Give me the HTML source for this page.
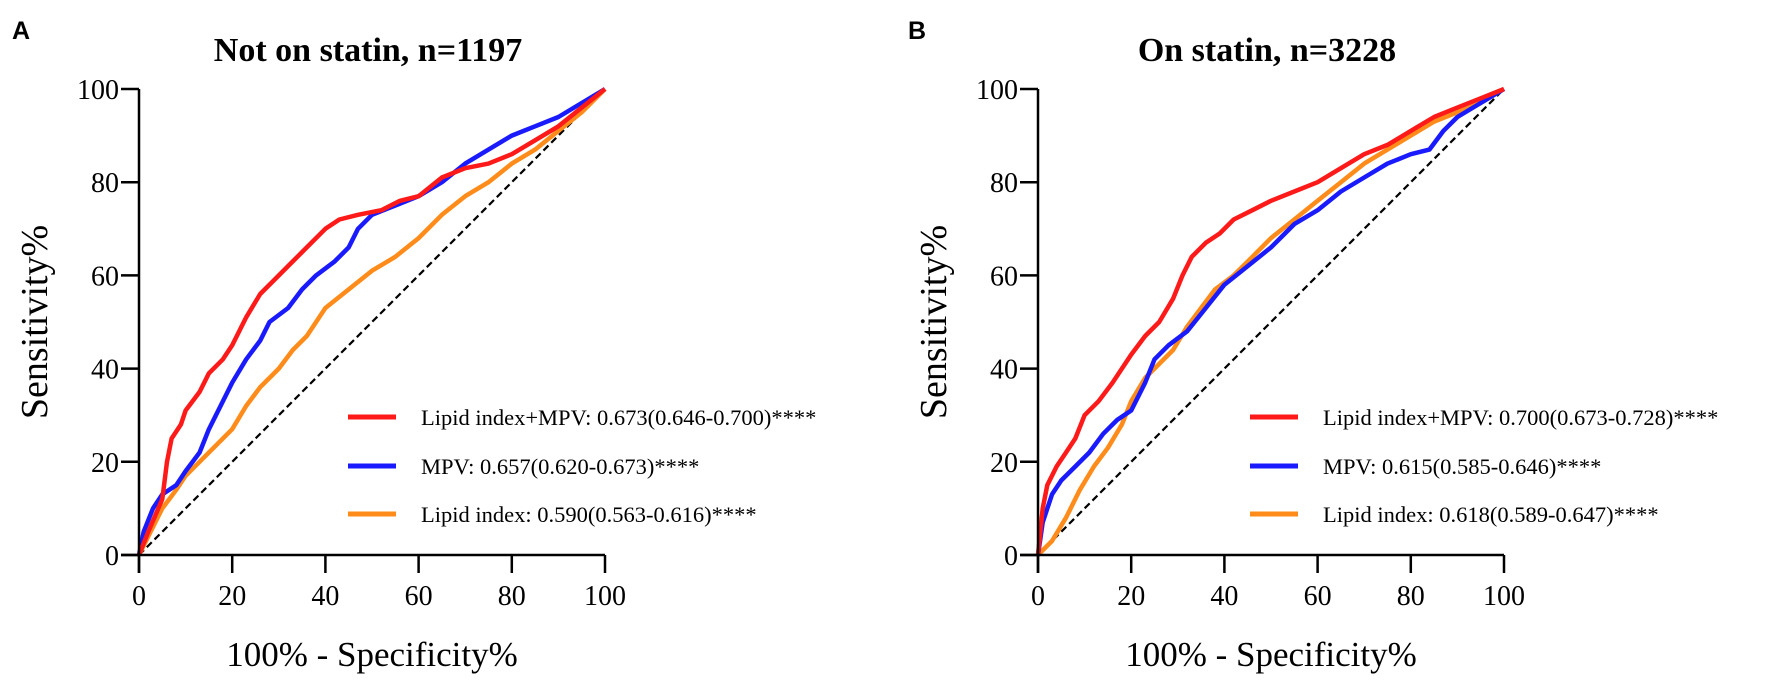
<!DOCTYPE html>
<html><head><meta charset="utf-8">
<style>
html,body{margin:0;padding:0;background:#fff;}
svg{display:block;}
text{font-family:"Liberation Serif",serif;fill:#000;}
</style></head>
<body>
<svg id="chart" width="1772" height="682" viewBox="0 0 1772 682" xmlns="http://www.w3.org/2000/svg"></svg>
<script>
const ticks=[0,20,40,60,80,100];
const tickLabels=["0","20","40","60","80","100"];
const panelTitles=["Not on statin, n=1197","On statin, n=3228"];
const panelLetters=["A","B"];
const seriesNames=["Lipid index+MPV","MPV","Lipid index"];
const legendA=["Lipid index+MPV: 0.673(0.646-0.700)****","MPV: 0.657(0.620-0.673)****","Lipid index: 0.590(0.563-0.616)****"];
const legendB=["Lipid index+MPV: 0.700(0.673-0.728)****","MPV: 0.615(0.585-0.646)****","Lipid index: 0.618(0.589-0.647)****"];
const colors=["#ff1a1a","#1a1aff","#ff8c1a"];
// Panel A data (x = 100-specificity, y = sensitivity)
const aRedX=[0,2,5,6,7,9,10,13,15,18,20,23,26,29,33,36,40,43,47,52,56,60,65,70,75,80,85,90,95,100];
const aRedY=[0,5,12,20,25,28,31,35,39,42,45,51,56,59,63,66,70,72,73,74,76,77,81,83,84,86,89,92,96,100];
const aBlueX=[0,1,3,5,8,10,13,15,18,20,23,26,28,32,35,38,42,45,47,50,55,60,65,70,75,80,85,90,95,100];
const aBlueY=[0,5,10,13,15,18,22,27,33,37,42,46,50,53,57,60,63,66,70,73,75,77,80,84,87,90,92,94,97,100];
const aOrX=[0,2,5,8,10,13,16,20,23,26,30,33,36,40,45,50,55,60,65,70,75,80,85,90,95,100];
const aOrY=[0,4,10,14,17,20,23,27,32,36,40,44,47,53,57,61,64,68,73,77,80,84,87,91,95,100];
// Panel B data
const bRedX=[0,1,2,4,6,8,10,13,16,18,20,23,26,29,31,33,36,39,42,46,50,55,60,65,70,75,80,85,90,95,100];
const bRedY=[0,10,15,19,22,25,30,33,37,40,43,47,50,55,60,64,67,69,72,74,76,78,80,83,86,88,91,94,96,98,100];
const bBlueX=[0,1,3,5,8,11,14,17,20,23,25,28,32,36,40,45,50,55,60,65,70,75,80,84,87,90,95,100];
const bBlueY=[0,7,13,16,19,22,26,29,31,37,42,45,48,53,58,62,66,71,74,78,81,84,86,87,91,94,97,100];
const bOrX=[0,3,6,9,12,15,18,20,23,26,29,32,35,38,42,46,50,55,60,65,70,75,80,85,90,95,100];
const bOrY=[0,3,8,14,19,23,28,33,38,41,44,49,53,57,60,64,68,72,76,80,84,87,90,93,95,97,100];

const NS="http://www.w3.org/2000/svg";
const svg=document.getElementById('chart');
function mk(tag,attrs,parent){const e=document.createElementNS(NS,tag);for(const k in attrs)e.setAttribute(k,attrs[k]);(parent||svg).appendChild(e);return e;}

const panels=[
 {x0:139,x1:605,y0:555,y1:89,series:[[aRedX,aRedY],[aBlueX,aBlueY],[aOrX,aOrY]],legend:legendA,legX:348,letterX:12},
 {x0:1038,x1:1504,y0:555,y1:89,series:[[bRedX,bRedY],[bBlueX,bBlueY],[bOrX,bOrY]],legend:legendB,legX:1250,letterX:908}
];
panels.forEach((p,pi)=>{
 const g=mk('g',{});
 
 
 const sx=v=>p.x0+(p.x1-p.x0)*v/100;
 const sy=v=>p.y0+(p.y1-p.y0)*v/100;
 const L=mk('text',{x:p.letterX,y:39,'font-size':25,'font-weight':'bold',style:'font-family:"Liberation Sans",sans-serif'},g);
 L.textContent=panelLetters[pi];
 
 
 const T=mk('text',{x:(p.x0+p.x1)/2-4,y:61,'font-size':34,'font-weight':'bold','text-anchor':'middle'},g);
 T.textContent=panelTitles[pi];
 
 
 const d=mk('line',{x1:sx(0),y1:sy(0),x2:sx(100),y2:sy(100),stroke:'#000','stroke-width':2.2,'stroke-dasharray':'7,4'},g);
 
 
 [2,1,0].forEach(si=>{
  const [xs,ys]=p.series[si];
  const pts=xs.map((x,i)=>sx(x).toFixed(1)+','+sy(ys[i]).toFixed(1)).join(' ');
  const pl=mk('polyline',{points:pts,fill:'none',stroke:colors[si],'stroke-width':4.5,'stroke-linejoin':'round'},g);
  
  
 });
 const ya=mk('line',{x1:p.x0,y1:sy(100),x2:p.x0,y2:p.y0+18,stroke:'#000','stroke-width':2.5},g);
 
 
 const xa=mk('line',{x1:p.x0-18,y1:p.y0,x2:p.x1,y2:p.y0,stroke:'#000','stroke-width':2.5},g);
 
 
 ticks.forEach((t,i)=>{
  mk('line',{x1:p.x0-18,y1:sy(t),x2:p.x0,y2:sy(t),stroke:'#000','stroke-width':2.5},g);
  mk('line',{x1:sx(t),y1:p.y0,x2:sx(t),y2:p.y0+18,stroke:'#000','stroke-width':2.5},g);
  const yl=mk('text',{x:p.x0-20,y:sy(t)+10,'font-size':28,'text-anchor':'end'},g);
  yl.textContent=tickLabels[i];
  
  
  const xl=mk('text',{x:sx(t),y:p.y0+50,'font-size':28,'text-anchor':'middle'},g);
  xl.textContent=tickLabels[i];
  
  
 });
 const yt=mk('text',{x:0,y:0,'font-size':38,'text-anchor':'middle',transform:`translate(${p.x0-92},${(p.y0+p.y1)/2}) rotate(-90)`},g);
 yt.textContent='Sensitivity%';
 
 
 const xt=mk('text',{x:(p.x0+p.x1)/2,y:666,'font-size':35,'text-anchor':'middle'},g);
 xt.textContent='100% - Specificity%';
 
 
 const legY=[417,466,514];
 p.legend.forEach((s,i)=>{
  const ln=mk('line',{x1:p.legX,y1:legY[i],x2:p.legX+48,y2:legY[i],stroke:colors[i],'stroke-width':5},g);
  
  
  const tx=mk('text',{x:p.legX+73,y:legY[i]+8,'font-size':22.5},g);
  tx.textContent=s;
  
  
 });
});
</script>
</body></html>
